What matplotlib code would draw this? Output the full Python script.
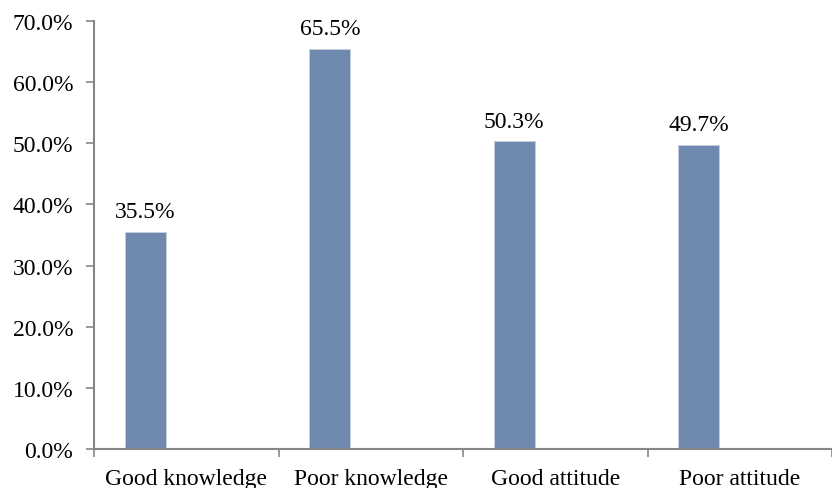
import matplotlib.pyplot as plt
import numpy as np

plt.rcParams['font.family'] = ['Liberation Serif', 'DejaVu Serif']

categories = ['Good knowledge', 'Poor knowledge', 'Good attitude', 'Poor attitude']
values = [35.5, 65.5, 50.3, 49.7]
labels = ['35.5%', '65.5%', '50.3%', '49.7%']

fig = plt.figure(figsize=(8.32, 4.89), dpi=100)
ax = fig.add_axes([94 / 832, 39 / 489, 1 - 94 / 832, (450 - 22) / 489])

x = np.arange(len(categories))
off = -0.222
bars = ax.bar(x + off, values, width=0.22, color='#7089ae', edgecolor='#c6d2e3', linewidth=0.6)

for xi, v, lab in zip(x, values, labels):
    ax.text(xi + off, v + 1.6, lab, ha='center', va='bottom', fontsize=17)

ax.set_ylim(0, 70)
ax.set_xlim(-0.5, 3.446)
ax.set_yticks(np.arange(0, 71, 10))
ax.set_yticklabels(['%.1f%%' % t for t in np.arange(0, 71, 10)], fontsize=17)

# category boundaries get the tick marks, names sit in between
ax.set_xticks(np.arange(-0.5, 4, 1))
ax.set_xticklabels([])
ax.set_xticks(x, minor=True)
ax.set_xticklabels(categories, minor=True, fontsize=17)
ax.tick_params(axis='x', which='minor', length=0, pad=14)
ax.tick_params(axis='x', which='major', length=6, width=1.2, color='#868686')
ax.tick_params(axis='y', length=6, width=1.2, color='#868686', pad=9)

for s in ['top', 'right']:
    ax.spines[s].set_visible(False)
for s in ['left', 'bottom']:
    ax.spines[s].set_color('#868686')
    ax.spines[s].set_linewidth(1.5)

fig.savefig('out.png', dpi=100)
